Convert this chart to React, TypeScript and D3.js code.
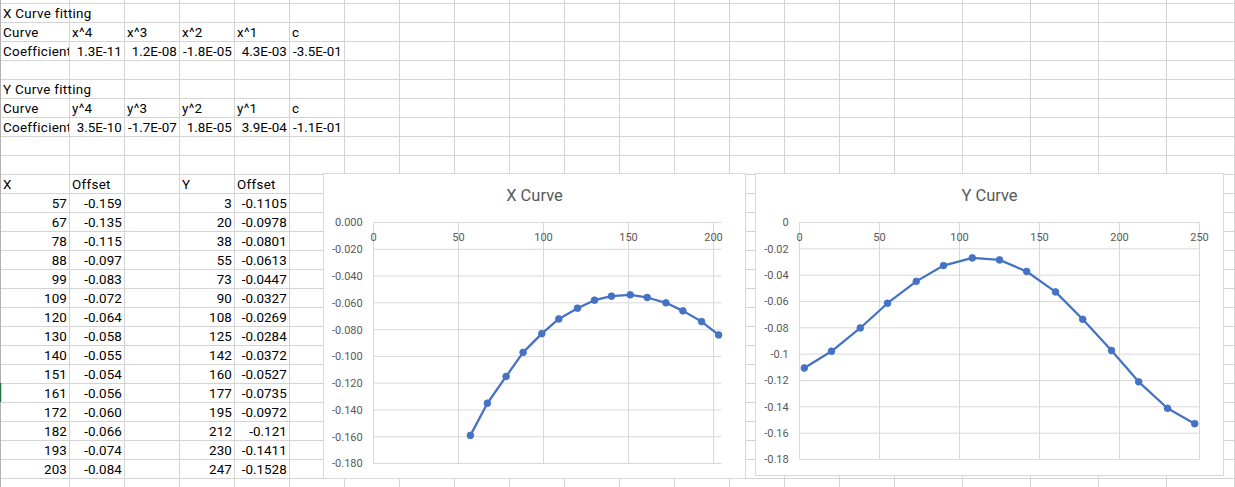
import React from 'react';
import * as d3 from 'd3';

// ---------- data ----------
const xPositions = [57, 67, 78, 88, 99, 109, 120, 130, 140, 151, 161, 172, 182, 193, 203];
const xOffsets = [-0.159, -0.135, -0.115, -0.097, -0.083, -0.072, -0.064, -0.058, -0.055, -0.054, -0.056, -0.060, -0.066, -0.074, -0.084];
const yPositions = [3, 20, 38, 55, 73, 90, 108, 125, 142, 160, 177, 195, 212, 230, 247];
const yOffsets = [-0.1105, -0.0978, -0.0801, -0.0613, -0.0447, -0.0327, -0.0269, -0.0284, -0.0372, -0.0527, -0.0735, -0.0972, -0.121, -0.1411, -0.1528];

const xCurveTerms = ['x^4', 'x^3', 'x^2', 'x^1', 'c'];
const xCoefficients = ['1.3E-11', '1.2E-08', '-1.8E-05', '4.3E-03', '-3.5E-01'];
const yCurveTerms = ['y^4', 'y^3', 'y^2', 'y^1', 'c'];
const yCoefficients = ['3.5E-10', '-1.7E-07', '1.8E-05', '3.9E-04', '-1.1E-01'];

const xChartXTicks = [0, 50, 100, 150, 200];
const yChartXTicks = [0, 50, 100, 150, 200, 250];
const offsetTicks = [0, -0.02, -0.04, -0.06, -0.08, -0.1, -0.12, -0.14, -0.16, -0.18];

// ---------- layout ----------
const W = 1235;
const H = 487;
const GRID = '#d4d4d4';
const BLUE = '#4472C4';
const LABEL = '#595959';
const CELL_FONT = 'Roboto, sans-serif';

const colLines = [0, 69, ...d3.range(1, 16).map((i) => 69 + 55 * i), ...d3.range(1, 6).map((i) => 894 + 68 * i)];
const rowTop = (r: number) => 3 + 19 * r;
const colLeft = (c: number) => colLines[c];
const colRight = (c: number) => colLines[c + 1];

type Cell = { r: number; c: number; text: string; align: 'left' | 'right'; clip?: boolean };

function buildCells(): Cell[] {
  const cells: Cell[] = [];
  cells.push({ r: 0, c: 0, text: 'X Curve fitting', align: 'left' });
  cells.push({ r: 1, c: 0, text: 'Curve', align: 'left' });
  xCurveTerms.forEach((t, i) => cells.push({ r: 1, c: i + 1, text: t, align: 'left' }));
  cells.push({ r: 2, c: 0, text: 'Coefficient', align: 'left', clip: true });
  xCoefficients.forEach((t, i) => cells.push({ r: 2, c: i + 1, text: t, align: 'right' }));

  cells.push({ r: 4, c: 0, text: 'Y Curve fitting', align: 'left' });
  cells.push({ r: 5, c: 0, text: 'Curve', align: 'left' });
  yCurveTerms.forEach((t, i) => cells.push({ r: 5, c: i + 1, text: t, align: 'left' }));
  cells.push({ r: 6, c: 0, text: 'Coefficient', align: 'left', clip: true });
  yCoefficients.forEach((t, i) => cells.push({ r: 6, c: i + 1, text: t, align: 'right' }));

  cells.push({ r: 9, c: 0, text: 'X', align: 'left' });
  cells.push({ r: 9, c: 1, text: 'Offset', align: 'left' });
  cells.push({ r: 9, c: 3, text: 'Y', align: 'left' });
  cells.push({ r: 9, c: 4, text: 'Offset', align: 'left' });
  xPositions.forEach((v, i) => {
    cells.push({ r: 10 + i, c: 0, text: String(v), align: 'right' });
    cells.push({ r: 10 + i, c: 1, text: xOffsets[i].toFixed(3), align: 'right' });
  });
  yPositions.forEach((v, i) => {
    cells.push({ r: 10 + i, c: 3, text: String(v), align: 'right' });
    cells.push({ r: 10 + i, c: 4, text: String(yOffsets[i]), align: 'right' });
  });
  return cells;
}

type ChartProps = {
  id: string;
  title: string;
  box: { x: number; y: number; w: number; h: number };
  xRange: [number, number];
  xDomain: [number, number];
  plotRight: number;
  yRange: [number, number];
  xTicks: number[];
  yTicks: number[];
  yFmt: (v: number) => string;
  xs: number[];
  ys: number[];
};

function Chart(p: ChartProps) {
  const x = d3.scaleLinear().domain(p.xDomain).range(p.xRange);
  const y = d3.scaleLinear().domain([0, -0.18]).range(p.yRange);
  const plotLeft = p.xRange[0];
  const plotTop = p.yRange[0];
  const plotBottom = p.yRange[1];
  const pts = p.xs.map((v, i) => [v, p.ys[i]] as [number, number]);
  const line = d3
    .line<[number, number]>()
    .x((d) => x(d[0]))
    .y((d) => y(d[1]));
  const cx = p.box.x + p.box.w / 2;
  return (
    <g>
      <rect x={p.box.x} y={p.box.y} width={p.box.w} height={p.box.h} fill="#fff" stroke="#d9d9d9" strokeWidth={1} />
      <text x={cx} y={200.5} textAnchor="middle" fontFamily={CELL_FONT} fontSize={16.5} fill={LABEL}>
        {p.title}
      </text>
      {p.yTicks.map((t) => (
        <line key={'h' + t} x1={plotLeft} x2={p.plotRight} y1={y(t)} y2={y(t)} stroke="#d9d9d9" strokeWidth={1} />
      ))}
      {p.xTicks.map((t) => (
        <line key={'v' + t} x1={x(t)} x2={x(t)} y1={plotTop} y2={plotBottom} stroke="#d9d9d9" strokeWidth={1} />
      ))}
      {p.yTicks.map((t) => (
        <text key={'yl' + t} x={plotLeft - 10.8} y={y(t)} dy="0.36em" textAnchor="end" fontFamily={CELL_FONT} fontSize={11} fill={LABEL}>
          {p.yFmt(t)}
        </text>
      ))}
      {p.xTicks.map((t) => (
        <text key={'xl' + t} x={x(t)} y={240.7} textAnchor="middle" fontFamily={CELL_FONT} fontSize={11} fill={LABEL}>
          {String(t)}
        </text>
      ))}
      <path d={line(pts) || ''} fill="none" stroke={BLUE} strokeWidth={2.25} strokeLinejoin="round" />
      {pts.map((d, i) => (
        <circle key={'m' + i} cx={x(d[0])} cy={y(d[1])} r={3.4} fill={BLUE} stroke={BLUE} strokeWidth={0.75} />
      ))}
    </g>
  );
}

export default function App() {
  const cells = buildCells();
  const nRows = 27;
  return (
    <svg
      width={W}
      height={H}
      viewBox={`0 0 ${W} ${H}`}
      style={{ position: 'absolute', left: 0, top: 0, background: '#fff' }}
    >
      <rect x={0} y={0} width={W} height={H} fill="#fff" />
      <defs>
        <clipPath id="clipA">
          <rect x={0} y={0} width={69} height={H} />
        </clipPath>
      </defs>
      {/* spreadsheet grid */}
      {d3.range(0, nRows).map((r) => (
        <line key={'r' + r} x1={0} x2={W} y1={rowTop(r) + 0.5} y2={rowTop(r) + 0.5} stroke={GRID} strokeWidth={1} />
      ))}
      {colLines.slice(1).map((c) => (
        <line key={'c' + c} x1={c + 0.5} x2={c + 0.5} y1={0} y2={H} stroke={GRID} strokeWidth={1} />
      ))}
      <line x1={0.5} x2={0.5} y1={0} y2={H} stroke="#b0b0b0" strokeWidth={1} />
      <line x1={0.5} x2={0.5} y1={383} y2={402} stroke="#217346" strokeWidth={1.5} />
      {/* cell texts */}
      {cells.map((cell, i) => {
        const base = rowTop(cell.r) + 15;
        const tx = cell.align === 'left' ? colLeft(cell.c) + 3 : colRight(cell.c) - 2.3;
        return (
          <text
            key={'t' + i}
            x={tx}
            y={base}
            textAnchor={cell.align === 'left' ? 'start' : 'end'}
            fontFamily={CELL_FONT}
            fontSize={13.4}
            letterSpacing={cell.align === 'left' ? 0.3 : 0}
            fill="#000"
            clipPath={cell.clip ? 'url(#clipA)' : undefined}
          >
            {cell.text}
          </text>
        );
      })}
      <Chart
        id="xc"
        title="X Curve"
        box={{ x: 323.5, y: 173.5, w: 422, h: 305 }}
        xDomain={[0, 200]}
        xRange={[373.5, 713.5]}
        plotRight={721.5}
        yRange={[222.5, 463.5]}
        xTicks={xChartXTicks}
        yTicks={offsetTicks}
        yFmt={(v) => v.toFixed(3)}
        xs={xPositions}
        ys={xOffsets}
      />
      <Chart
        id="yc"
        title="Y Curve"
        box={{ x: 755.5, y: 173.5, w: 468, h: 302 }}
        xDomain={[0, 250]}
        xRange={[799.5, 1199.5]}
        plotRight={1199.5}
        yRange={[222.5, 459.5]}
        xTicks={yChartXTicks}
        yTicks={offsetTicks}
        yFmt={(v) => String(+v.toFixed(2))}
        xs={yPositions}
        ys={yOffsets}
      />
    </svg>
  );
}
